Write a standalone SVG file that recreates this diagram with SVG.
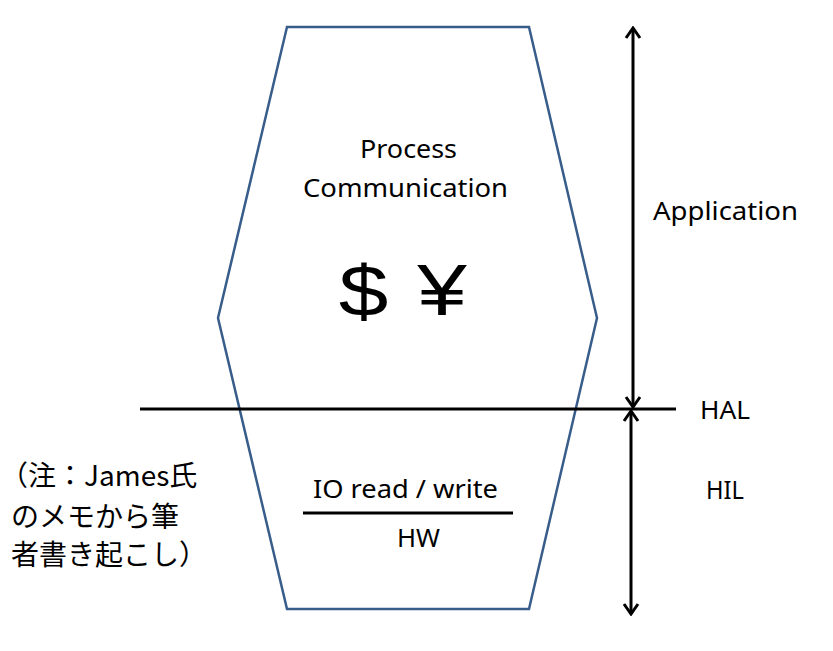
<svg xmlns="http://www.w3.org/2000/svg" width="833" height="651" viewBox="0 0 833 651">
  <style>
    .lbl { font-family: "Noto Sans", "Open Sans", sans-serif; font-size: 26px; fill: #000; }
    .sym { font-family: "Liberation Sans", Arial, sans-serif; font-size: 73px; fill: #000; }
    .jp { font-family: "Noto Sans CJK JP", "Noto Sans", sans-serif; font-size: 28px; fill: #000; }
    .hex { fill: #ffffff; stroke: #385D8A; stroke-width: 2.5; stroke-linejoin: miter; }
    .blk { stroke: #000; stroke-width: 3; fill: none; }
  </style>
  <defs>
    <marker id="chev" viewBox="-12 -9 14 18" refX="0" refY="0" markerWidth="14" markerHeight="18" markerUnits="userSpaceOnUse" orient="auto-start-reverse">
      <path d="M-10,-7 L0,0 L-10,7" fill="none" stroke="#000" stroke-width="3"/>
    </marker>
  </defs>
  <rect width="833" height="651" fill="#ffffff"/>

  <g id="hexagon">
    <polygon class="hex" points="287,27 529,27 597,318 529,609 287,609 218,318"/>
  </g>

  <g id="connectors">
    <line id="hal-line" class="blk" x1="140" y1="409" x2="676" y2="409"/>
    <line id="app-arrow" class="blk" x1="633" y1="28" x2="633" y2="407" marker-start="url(#chev)" marker-end="url(#chev)"/>
    <line id="hil-arrow" class="blk" x1="631" y1="411" x2="631" y2="614" marker-start="url(#chev)" marker-end="url(#chev)"/>
    <line id="fraction-line" class="blk" stroke-width="2.5" x1="303" y1="513" x2="513" y2="513"/>
  </g>

  <g id="process-communication">
    <text class="lbl" x="360" y="158" textLength="97" lengthAdjust="spacingAndGlyphs">Process</text>
    <text class="lbl" x="303" y="197" textLength="205" lengthAdjust="spacingAndGlyphs">Communication</text>
  </g>

  <g id="currency">
    <text class="sym" text-anchor="middle" transform="translate(363.5,316) scale(1.22,1)">$</text>
    <text class="sym" text-anchor="middle" transform="translate(442,315) scale(1.22,1)">¥</text>
  </g>

  <g id="io-hw">
    <text class="lbl" x="313" y="498" textLength="185" lengthAdjust="spacingAndGlyphs">IO read / write</text>
    <text class="lbl" x="397" y="547" textLength="43" lengthAdjust="spacingAndGlyphs">HW</text>
  </g>

  <g id="application">
    <text class="lbl" x="653" y="220" textLength="145" lengthAdjust="spacingAndGlyphs">Application</text>
  </g>
  <g id="hal">
    <text class="lbl" x="700" y="419" textLength="50" lengthAdjust="spacingAndGlyphs">HAL</text>
  </g>
  <g id="hil">
    <text class="lbl" x="706" y="499" textLength="38" lengthAdjust="spacingAndGlyphs">HIL</text>
  </g>

  <g id="note">
    <text class="jp" x="0" y="486">（注：James氏</text>
    <text class="jp" x="11" y="527">のメモから筆</text>
    <text class="jp" x="11" y="565">者書き起こし）</text>
  </g>
</svg>
